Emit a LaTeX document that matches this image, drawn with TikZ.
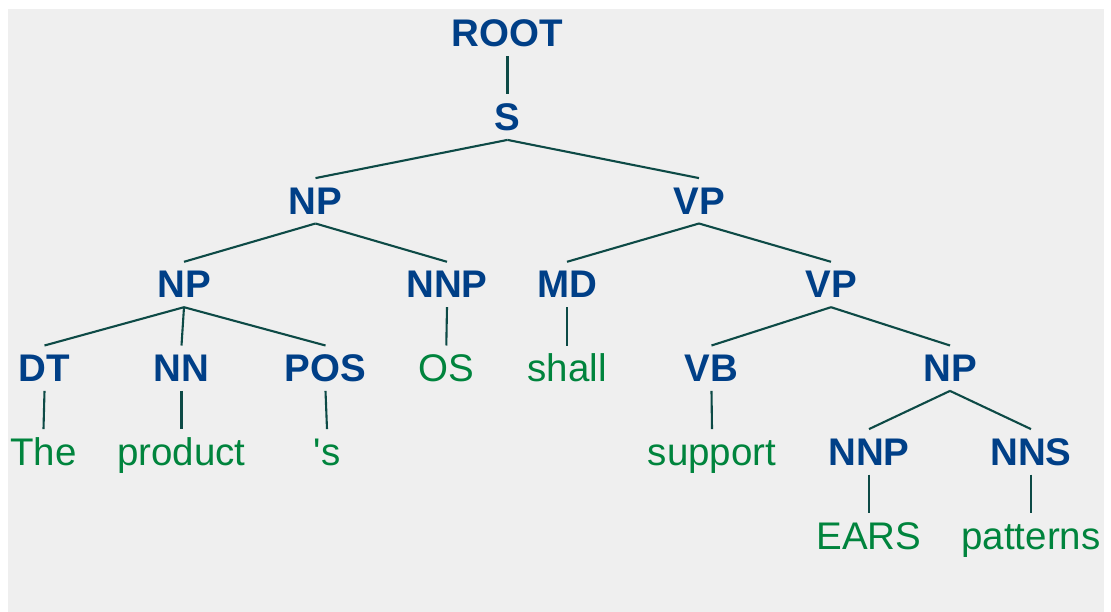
\documentclass[tikz,border=0pt]{standalone}
\usepackage{fontspec}
\setmainfont{Liberation Sans}
\definecolor{pagebg}{HTML}{EFEFEF}
\definecolor{catblue}{HTML}{003F87}
\definecolor{wordgreen}{HTML}{00843D}
\definecolor{branch}{HTML}{0D4A46}
\begin{document}
\begin{tikzpicture}[x=1pt,y=-1pt,
  lbl/.style={anchor=base, text height=27pt, text depth=0pt, inner xsep=0pt, inner ysep=9pt},
  cat/.style={lbl, font=\fontsize{38.5}{38.5}\selectfont\bfseries, text=catblue},
  word/.style={lbl, font=\fontsize{38.5}{38.5}\selectfont, text=wordgreen},
  edge/.style={draw=branch, line width=2.1pt}]
\fill[white] (0,0) rectangle (1111,612);
\fill[pagebg] (8,9) rectangle (1104,612);
\useasboundingbox (0,0) rectangle (1111,612);
% level baselines
\def\la{47}\def\lb{130.7}\def\lc{214.3}\def\ld{298}\def\le{381.7}\def\lf{465.3}\def\lg{549}
\node[cat] (root) at (507.5,\la) {ROOT};
\node[cat] (s)    at (507.5,\lb) {S};
\node[cat] (np1)  at (315.5,\lc) {NP};
\node[cat] (vp1)  at (699,\lc) {VP};
\node[cat] (np2)  at (184,\ld) {NP};
\node[cat] (nnp1) at (447,\ld) {NNP};
\node[cat] (md)   at (567,\ld) {MD};
\node[cat] (vp2)  at (831,\ld) {VP};
\node[cat] (dt)   at (44.5,\le) {DT};
\node[cat] (nn)   at (181.5,\le) {NN};
\node[cat] (pos)  at (325.5,\le) {POS};
\node[word] (os)  at (446.3,\le) {OS};
\node[word] (shall) at (567,\le) {shall};
\node[cat] (vb)   at (711.5,\le) {VB};
\node[cat] (np3)  at (950,\le) {NP};
\node[word] (the) at (43.5,\lf) {The};
\node[word] (product) at (181.5,\lf) {product};
\node[word] (poss) at (327,\lf) {\textquotesingle s};
\node[word] (support) at (712,\lf) {support};
\node[cat] (nnp2) at (869,\lf) {NNP};
\node[cat] (nns)  at (1031,\lf) {NNS};
\node[word] (ears) at (869,\lg) {EARS};
\node[word] (patterns) at (1031,\lg) {patterns};
% branches
\foreach \p/\c in {root/s, s/np1, s/vp1, np1/np2, np1/nnp1, vp1/md, vp1/vp2,
  np2/dt, np2/nn, np2/pos, nnp1/os, md/shall, vp2/vb, vp2/np3,
  dt/the, nn/product, pos/poss, vb/support, np3/nnp2, np3/nns,
  nnp2/ears, nns/patterns}
  \draw[edge] (\p.south) -- (\c.north);
\end{tikzpicture}
\end{document}
